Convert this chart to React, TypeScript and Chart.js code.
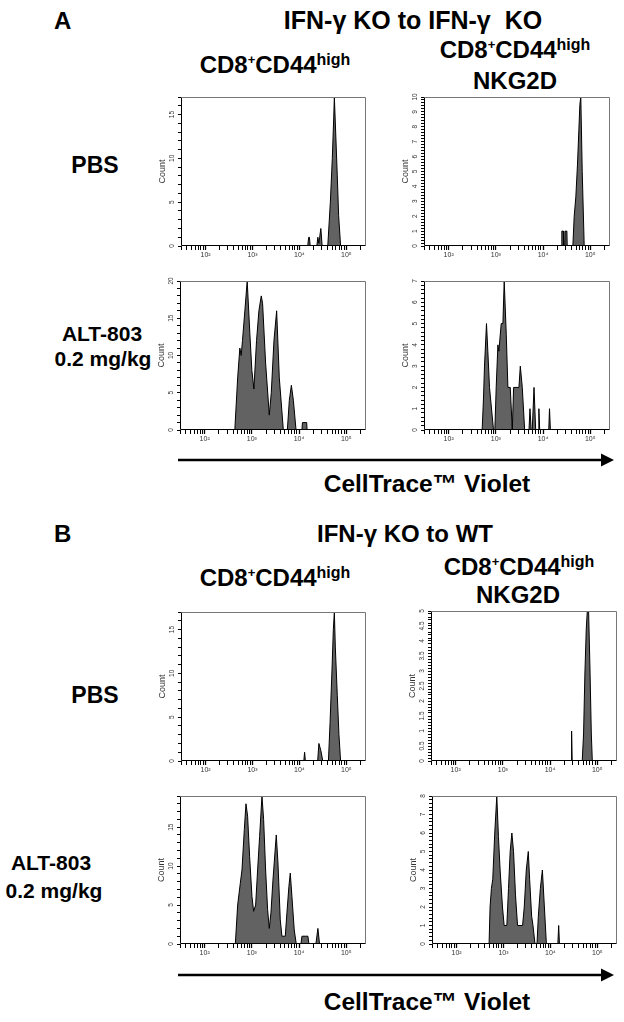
import React, { useEffect, useRef } from 'react';
import { Chart, registerables } from 'chart.js';

Chart.register(...registerables);

const FONT = '"Liberation Sans", Arial, Helvetica, sans-serif';

// ---------- x axis (CellTrace Violet intensity, log) ----------
const X_MIN = 30;
const X_MAX = 262144;
const X_MAJOR = [100, 1000, 10000, 100000];
const X_MAJOR_LABELS = ['10²', '10³', '10⁴', '10⁵'];

// ---------- A: IFN-γ KO to IFN-γ KO ----------
// PBS, CD8+CD44high
const a1X = [15000, 15800, 16300, 17000, 23500, 24700, 26000, 27000, 28600, 30500, 40200, 45600, 50200, 53700, 55500, 59200, 64100, 68400, 75400];
const a1Y = [0, 1, 1, 0, 0, 1, 0.3, 1, 2, 0, 0, 5, 10, 14.5, 17, 13, 8, 3.5, 0];
const a1YTicks = [0, 5, 10, 15];

// PBS, CD8+CD44high NKG2D
const a2X = [24500, 25000, 27000, 27500, 29000, 29500, 32000, 32500, 42800, 45700, 49500, 53700, 57400, 60300, 63100, 67600, 74500];
const a2Y = [0, 1, 1, 0, 0, 1, 1, 0, 0, 2, 3.3, 5.5, 7.8, 9.5, 10, 5, 0];
const a2YTicks = [0, 1, 2, 3, 4, 5, 6, 7, 8, 9, 10];

// ALT-803, CD8+CD44high
const a3X = [435, 500, 556, 593, 633, 710, 796, 906, 1000, 1104, 1256, 1409, 1581, 1687, 1954, 2340, 2578, 2939, 3350, 3815, 4645, 5650, 6225, 6870, 7570, 8630, 11500, 11800, 14500, 14800];
const a3Y = [0, 7, 11, 10, 12, 16, 20, 13, 8, 5.5, 12, 16, 18, 17, 9, 2, 5, 12, 16, 7, 0, 0, 4, 6, 4, 0, 0, 1, 1, 0];
const a3YTicks = [0, 5, 10, 15, 20];

// ALT-803, CD8+CD44high NKG2D
const a4X = [512, 547, 574, 633, 676, 733, 891, 952, 1016, 1104, 1158, 1298, 1409, 1503, 1660, 1799, 2018, 2228, 2377, 3083, 3296, 3631, 4074, 5035, 5284, 5600, 5900, 6436, 6982, 7834, 8150, 8492, 13210, 13700, 14320];
const a4Y = [0, 1.5, 3, 5, 3.7, 2, 0, 0, 2, 4, 3.7, 5, 5, 7, 4.5, 2, 2, 0, 2, 2, 3, 2, 0, 0, 1, 0, 0, 2, 0, 0, 1, 0, 0, 1, 0];
const a4YTicks = [0, 1, 2, 3, 4, 5, 6, 7];

// ---------- B: IFN-γ KO to WT ----------
const b1X = [12400, 12900, 13400, 24500, 26000, 28600, 31500, 41500, 45000, 49500, 52800, 55500, 58200, 64100, 69500, 75400];
const b1Y = [0, 1, 0, 0, 2, 1.2, 0, 0, 4.4, 10.5, 15, 17, 13, 7.5, 3, 0];
const b1YTicks = [0, 5, 10, 15];

const b2X = [27800, 28600, 29400, 48000, 51300, 54700, 58500, 61500, 65600, 70100, 74900, 78700];
const b2Y = [0, 1, 0, 0, 0.9, 2.9, 4.4, 5, 5, 3.1, 0.9, 0];
const b2YTicks = [0, 0.5, 1, 1.5, 2, 2.5, 3, 3.5, 4, 4.5, 5];

const b3X = [446, 500, 569, 617, 692, 750, 813, 897, 1005, 1089, 1202, 1324, 1460, 1637, 1774, 1956, 2157, 2339, 2536, 2797, 3083, 3290, 3571, 4000, 4337, 5105, 5534, 6098, 6512, 7063, 7907, 8726, 10960, 11510, 15420, 16180, 22750, 25070, 27210];
const b3Y = [0, 5, 7.8, 9.5, 14.7, 18, 16.4, 11.2, 6.1, 4.2, 5, 9.5, 13.8, 19, 16, 9.5, 4.4, 2, 4, 8.2, 11.7, 14, 10.4, 3.1, 1, 1, 4, 7.4, 9.1, 6.1, 1.8, 0, 0, 1, 1, 0, 0, 2, 0];
const b3YTicks = [0, 5, 10, 15];

const b4X = [493, 518, 553, 591, 652, 720, 781, 848, 952, 1033, 1179, 1280, 1389, 1509, 1638, 1807, 1995, 2553, 2772, 3060, 3378, 3606, 3981, 4254, 4693, 5179, 5530, 6105, 6741, 7438, 8206, 14400, 15000, 15600];
const b4Y = [0, 2, 3, 3.5, 6, 8, 5.8, 4, 2, 1, 1, 3, 5, 6, 5, 2.6, 1, 1, 2, 4, 5, 3.5, 1.5, 1, 0, 0, 1.5, 3, 4, 2, 0, 0, 1, 0];
const b4YTicks = [0, 1, 2, 3, 4, 5, 6, 7, 8];

// ---------- panel layout (plot-area boxes in page pixels) ----------
type PanelDef = {
  key: string;
  xs: number[];
  ys: number[];
  yMax: number;
  yTicks: number[];
  yMinor: number;
  box: { left: number; top: number; right: number; bottom: number };
};

const PANELS: PanelDef[] = [
  { key: 'a1', xs: a1X, ys: a1Y, yMax: 17, yTicks: a1YTicks, yMinor: 1, box: { left: 181, top: 97, right: 366, bottom: 246 } },
  { key: 'a2', xs: a2X, ys: a2Y, yMax: 10, yTicks: a2YTicks, yMinor: 0.2, box: { left: 424, top: 97, right: 610, bottom: 246 } },
  { key: 'a3', xs: a3X, ys: a3Y, yMax: 20, yTicks: a3YTicks, yMinor: 1, box: { left: 180, top: 281, right: 366, bottom: 430 } },
  { key: 'a4', xs: a4X, ys: a4Y, yMax: 7, yTicks: a4YTicks, yMinor: 0.2, box: { left: 424, top: 281, right: 610, bottom: 430 } },
  { key: 'b1', xs: b1X, ys: b1Y, yMax: 17, yTicks: b1YTicks, yMinor: 1, box: { left: 181, top: 612, right: 366, bottom: 761 } },
  { key: 'b2', xs: b2X, ys: b2Y, yMax: 5, yTicks: b2YTicks, yMinor: 0.1, box: { left: 431, top: 611, right: 617, bottom: 761 } },
  { key: 'b3', xs: b3X, ys: b3Y, yMax: 19, yTicks: b3YTicks, yMinor: 1, box: { left: 180, top: 796, right: 366, bottom: 944 } },
  { key: 'b4', xs: b4X, ys: b4Y, yMax: 8, yTicks: b4YTicks, yMinor: 0.2, box: { left: 432, top: 796, right: 617, bottom: 944 } },
];

const Y_W = 28;
const PAD_T = 4;
const PAD_R = 4;
const X_H = 20;

function xTickValues(): number[] {
  const out: number[] = [];
  for (let e = 1; e <= 5; e++) {
    for (let m = 1; m <= 9; m++) {
      const v = m * Math.pow(10, e);
      if (v >= X_MIN && v <= X_MAX) out.push(v);
    }
  }
  return out;
}

function Histogram({ p }: { p: PanelDef }) {
  const ref = useRef<HTMLCanvasElement | null>(null);
  const w = Y_W + (p.box.right - p.box.left) + PAD_R;
  const h = PAD_T + (p.box.bottom - p.box.top) + X_H;

  useEffect(() => {
    if (!ref.current) return;
    const yMinorTicks: number[] = [];
    const n = Math.round(p.yMax / p.yMinor);
    for (let i = 0; i <= n; i++) yMinorTicks.push(Math.round(i * p.yMinor * 1000) / 1000);

    const framePlugin = {
      id: 'frame' + p.key,
      afterDatasetsDraw(chart: any) {
        const { ctx, chartArea } = chart;
        const l = Math.round(chartArea.left) + 0.5;
        const t = Math.round(chartArea.top) + 0.5;
        const r = Math.round(chartArea.right) - 0.5;
        const b = Math.round(chartArea.bottom) - 0.5;
        ctx.save();
        ctx.lineWidth = 1;
        ctx.strokeStyle = '#777';
        ctx.beginPath();
        ctx.moveTo(l, t);
        ctx.lineTo(r, t);
        ctx.lineTo(r, b);
        ctx.stroke();
        ctx.strokeStyle = '#000';
        ctx.beginPath();
        ctx.moveTo(l, t);
        ctx.lineTo(l, b);
        ctx.lineTo(r, b);
        ctx.stroke();
        ctx.restore();
      },
    };

    const yLabelPlugin = {
      id: 'ylab' + p.key,
      afterDraw(chart: any) {
        const s = chart.scales.y;
        const ctx = chart.ctx;
        ctx.save();
        ctx.fillStyle = '#333';
        ctx.font = `6.5px ${FONT}`;
        ctx.textAlign = 'center';
        ctx.textBaseline = 'middle';
        for (const v of p.yTicks) {
          const y = s.getPixelForValue(v);
          ctx.save();
          ctx.translate(s.right - 9, y);
          ctx.rotate(-Math.PI / 2);
          ctx.fillText(String(v), 0, 0);
          ctx.restore();
        }
        ctx.restore();
      },
    };

    const chart = new Chart(ref.current, {
      type: 'line',
      data: {
        datasets: [
          {
            data: p.xs.map((x, i) => ({ x, y: p.ys[i] })),
            borderColor: '#000',
            borderWidth: 1,
            backgroundColor: '#626262',
            fill: 'origin',
            pointRadius: 0,
            tension: 0,
          },
        ],
      },
      options: {
        animation: false,
        responsive: false,
        maintainAspectRatio: false,
        events: [],
        layout: { padding: { left: 0, top: PAD_T, right: PAD_R, bottom: 0 } },
        plugins: { legend: { display: false }, tooltip: { enabled: false } },
        scales: {
          x: {
            type: 'logarithmic',
            min: X_MIN,
            max: X_MAX,
            afterBuildTicks: (s: any) => {
              s.ticks = xTickValues().map((v) => ({ value: v, major: X_MAJOR.includes(v) }));
            },
            afterFit: (s: any) => {
              s.height = X_H;
            },
            ticks: {
              autoSkip: false,
              maxRotation: 0,
              minRotation: 0,
              padding: 1,
              color: '#333',
              font: { size: 7, family: FONT },
              callback: (v: any) => {
                const i = X_MAJOR.indexOf(Number(v));
                return i >= 0 ? X_MAJOR_LABELS[i] : '';
              },
            },
            grid: {
              drawOnChartArea: false,
              drawTicks: true,
              tickLength: 4,
              color: '#000',
              tickWidth: (ctx: any) => (ctx.tick && X_MAJOR.includes(ctx.tick.value) ? 1.3 : 1),
            },
            border: { display: false },
          },
          y: {
            type: 'linear',
            min: 0,
            max: p.yMax,
            afterBuildTicks: (s: any) => {
              s.ticks = yMinorTicks.map((v) => ({ value: v }));
            },
            afterFit: (s: any) => {
              s.width = Y_W;
            },
            ticks: { display: false },
            grid: {
              drawOnChartArea: false,
              drawTicks: true,
              tickLength: 3,
              color: '#000',
            },
            border: { display: false },
            title: {
              display: true,
              text: 'Count',
              color: '#333',
              font: { size: 9, family: FONT },
              padding: { top: 4, bottom: 0 },
            },
          },
        },
      },
      plugins: [framePlugin, yLabelPlugin],
    } as any);
    return () => chart.destroy();
  }, [p]);

  return (
    <canvas
      ref={ref}
      width={w}
      height={h}
      style={{
        position: 'absolute',
        left: p.box.left - Y_W,
        top: p.box.top - PAD_T,
        width: w,
        height: h,
      }}
    />
  );
}

function Header({ x, y }: { x: number; y: number }) {
  return (
    <text x={x} y={y} textAnchor="middle" fontSize={24} fontWeight="bold">
      CD8
      <tspan dy={-9} fontSize={13}>+</tspan>
      <tspan dy={9} fontSize={24}>CD44</tspan>
      <tspan dy={-8} fontSize={16}>high</tspan>
    </text>
  );
}

function Arrow({ y }: { y: number }) {
  return (
    <g>
      <line x1={178} y1={y} x2={603} y2={y} stroke="#000" strokeWidth={2.5} />
      <polygon points={`601,${y - 6.5} 614,${y} 601,${y + 6.5}`} fill="#000" />
    </g>
  );
}

export default function App() {
  return (
    <div
      style={{
        position: 'absolute',
        left: 0,
        top: 0,
        width: 624,
        height: 1022,
        background: '#fff',
        overflow: 'hidden',
        fontFamily: FONT,
      }}
    >
      <svg
        width={624}
        height={1022}
        style={{ position: 'absolute', left: 0, top: 0 }}
        fontFamily={FONT}
        fill="#000"
      >
        {/* Panel A */}
        <text x={54} y={29} fontSize={24} fontWeight="bold">A</text>
        <text x={413} y={29} textAnchor="middle" fontSize={25} fontWeight="bold">{'IFN-γ KO to IFN-γ\u00a0 KO'}</text>
        <Header x={275} y={73} />
        <Header x={515} y={58} />
        <text x={515} y={89} textAnchor="middle" fontSize={24} fontWeight="bold">NKG2D</text>
        <text x={95} y={173} textAnchor="middle" fontSize={23} fontWeight="bold">PBS</text>
        <text x={102} y={341} textAnchor="middle" fontSize={21} fontWeight="bold">ALT-803</text>
        <text x={103} y={366} textAnchor="middle" fontSize={21} fontWeight="bold">0.2 mg/kg</text>
        <Arrow y={460} />
        <text x={427} y={492} textAnchor="middle" fontSize={24.5} fontWeight="bold">CellTrace™ Violet</text>

        {/* Panel B */}
        <text x={54} y={542} fontSize={24} fontWeight="bold">B</text>
        <text x={405} y={542} textAnchor="middle" fontSize={24} fontWeight="bold">IFN-γ KO to WT</text>
        <Header x={275} y={586} />
        <Header x={519} y={575} />
        <text x={518} y={603} textAnchor="middle" fontSize={24} fontWeight="bold">NKG2D</text>
        <text x={95} y={703} textAnchor="middle" fontSize={23} fontWeight="bold">PBS</text>
        <text x={51} y={870} textAnchor="middle" fontSize={21} fontWeight="bold">ALT-803</text>
        <text x={54} y={898} textAnchor="middle" fontSize={21} fontWeight="bold">0.2 mg/kg</text>
        <Arrow y={975} />
        <text x={427} y={1010} textAnchor="middle" fontSize={24.5} fontWeight="bold">CellTrace™ Violet</text>
      </svg>
      {PANELS.map((p) => (
        <Histogram key={p.key} p={p} />
      ))}
    </div>
  );
}
